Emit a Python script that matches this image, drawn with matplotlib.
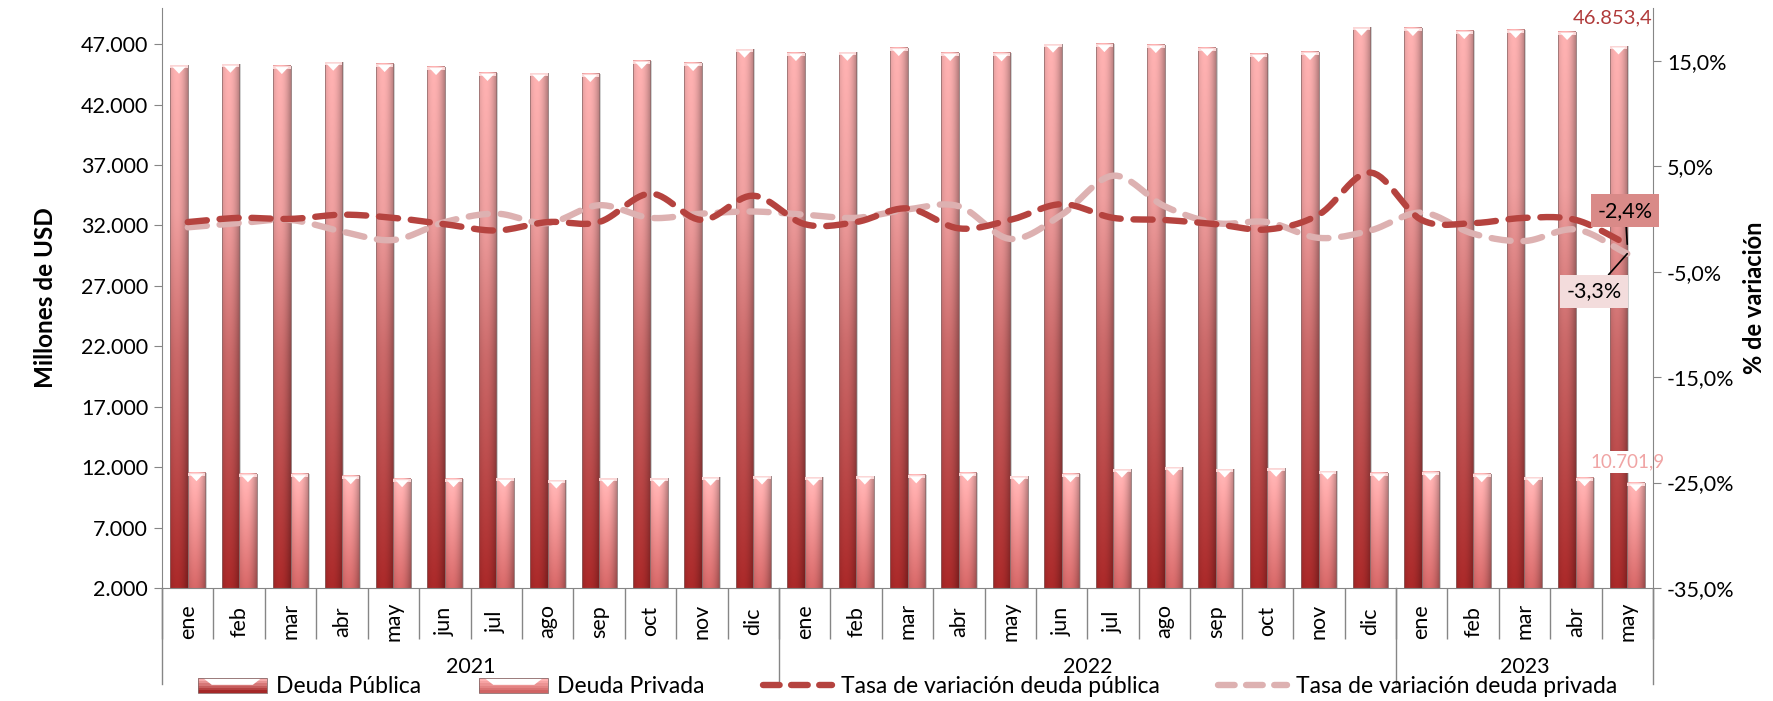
import numpy as np
import matplotlib
matplotlib.use("Agg")
import matplotlib.pyplot as plt
import matplotlib.transforms as mtransforms
from matplotlib.colors import to_rgb
from matplotlib.patches import Rectangle, Polygon
from matplotlib.lines import Line2D
from matplotlib.legend_handler import HandlerBase
from matplotlib.ticker import FuncFormatter, FixedLocator

plt.rcParams['font.family'] = ['Lato', 'DejaVu Sans']

# ---- data (millones de USD y % de variacion) ----
meses = ['ene', 'feb', 'mar', 'abr', 'may', 'jun', 'jul', 'ago', 'sep', 'oct', 'nov', 'dic'] * 2 + \
        ['ene', 'feb', 'mar', 'abr', 'may']
anios = ['2021', '2022', '2023']
meses_por_anio = [12, 12, 5]

deuda_publica = [45260, 45340, 45230, 45510, 45400, 45150, 44660, 44600, 44570, 45650, 45480, 46580,
                 46310, 46330, 46720, 46310, 46280, 47000, 47050, 46970, 46720, 46230, 46390, 48400,
                 48380, 48130, 48210, 48050, 46853.4]
deuda_privada = [11540, 11450, 11450, 11290, 11040, 11040, 11070, 10930, 11070, 11070, 11170, 11260,
                 11170, 11260, 11360, 11550, 11260, 11450, 11830, 12010, 11840, 11900, 11680, 11540,
                 11600, 11450, 11180, 11120, 10701.9]
tasa_publica = [-0.3, 0.1, 0.0, 0.4, 0.1, -0.5, -1.1, -0.3, -0.3, 2.4, -0.1, 2.2,
                -0.5, -0.3, 1.0, -0.9, -0.1, 1.4, 0.1, -0.1, -0.5, -1.0, 0.4, 4.4,
                -0.1, -0.4, 0.1, -0.1, -2.4]
tasa_privada = [-0.8, -0.4, -0.1, -1.2, -2.0, -0.3, 0.5, -0.4, 1.3, 0.1, 0.5, 0.7,
                0.4, 0.1, 0.9, 1.2, -1.9, 0.4, 4.1, 1.2, -0.4, -0.3, -1.8, -1.1,
                0.6, -1.4, -2.1, -1.0, -3.3]

C_PUB_LINE = '#b5433f'
C_PRIV_LINE = '#ddb1b1'
LW = 4.6
DASH = (3.0, 2.0)


def smooth(xs, ys, n=14):
    # catmull-rom curve through the points (like excel "smoothed line")
    xs = np.asarray(xs, float)
    ys = np.asarray(ys, float)
    px = np.concatenate([[2 * xs[0] - xs[1]], xs, [2 * xs[-1] - xs[-2]]])
    py = np.concatenate([[2 * ys[0] - ys[1]], ys, [2 * ys[-1] - ys[-2]]])
    t = np.linspace(0, 1, n, endpoint=False)
    ox, oy = [], []
    for i in range(1, len(px) - 2):
        for arr, out in ((px, ox), (py, oy)):
            p0, p1, p2, p3 = arr[i - 1:i + 3]
            out.extend(0.5 * (2 * p1 + (-p0 + p2) * t + (2 * p0 - 5 * p1 + 4 * p2 - p3) * t ** 2
                              + (-p0 + 3 * p1 - 3 * p2 + p3) * t ** 3))
    ox.append(xs[-1])
    oy.append(ys[-1])
    return np.array(ox), np.array(oy)


def gradient_img(stops, nx=24, ny=80):
    pos = np.array([s[0] for s in stops])
    cols = np.array([to_rgb(s[1]) for s in stops])
    t = np.linspace(0, 1, ny)
    col = np.stack([np.interp(t, pos, cols[:, k]) for k in range(3)], axis=1)
    u = np.linspace(0, 1, nx)
    shade = 1.04 - 0.30 * ((u - 0.38) / 0.62) ** 2
    img = col[:, None, :] * shade[None, :, None]
    return np.clip(img, 0, 1)


pub_stops = [(0, '#a52828'), (0.45, '#c46666'), (0.72, '#e79a9a'), (1, '#f6acac')]
priv_stops = [(0, '#d06464'), (1, '#ffb3b3')]
img_pub = gradient_img(pub_stops)
img_priv = gradient_img(priv_stops)

fig = plt.figure(figsize=(17.73, 7.01), dpi=100)
ax = fig.add_axes([0.0914, 0.1612, 0.8409, 0.8274])
ax2 = ax.twinx()

x = np.arange(len(meses))
w = 0.34
ymin, ymax = 2000, 50000

bars_pub = ax.bar(x - w / 2, deuda_publica, w, color='none', edgecolor='none')
bars_priv = ax.bar(x + w / 2, deuda_privada, w, color='none', edgecolor='none')

cap_h = 700
for bars, img in ((bars_pub, img_pub), (bars_priv, img_priv)):
    for r in bars:
        x0, bw, top = r.get_x(), r.get_width(), r.get_height()
        ax.add_patch(Rectangle((x0 + 0.03, ymin), bw, top - ymin, color='#9a9a9a', alpha=0.45, zorder=1.5, lw=0))
        ax.imshow(img, extent=(x0, x0 + bw, ymin, top), origin='lower', aspect='auto',
                  interpolation='bilinear', zorder=2)
        ax.add_patch(Rectangle((x0, ymin), bw, top - ymin, fill=False, edgecolor='#8a6a6a', lw=0.5, zorder=2.1))
        ax.add_patch(Rectangle((x0, top - 250), bw, 250, color='#fbd6d6', lw=0, zorder=2.2))
        ax.add_patch(Polygon([(x0 + 0.12 * bw, top - 120), (x0 + 0.88 * bw, top - 120),
                              (x0 + bw / 2, top - cap_h)], closed=True, color='white', lw=0, zorder=2.3))

ax.set_xlim(-0.5, len(meses) - 0.5)
ax.set_ylim(ymin, ymax)
ax.set_yticks(np.arange(2000, 47001, 5000))
ax.yaxis.set_major_formatter(FuncFormatter(lambda v, p: f"{v:,.0f}".replace(',', '.')))
ax.tick_params(axis='y', labelsize=15.5, length=6, color='#868686', pad=4)

ax.set_xticks(x)
ax.set_xticklabels(meses, rotation=90, fontsize=15.5, va='center')
ax.tick_params(axis='x', which='major', length=0, pad=24)
ax.xaxis.set_minor_locator(FixedLocator(np.arange(-0.5, len(meses), 1.0)))
ax.tick_params(axis='x', which='minor', length=37, color='#868686', width=1)

for s in ['top', 'right']:
    ax.spines[s].set_visible(False)
for s in ['left', 'bottom']:
    ax.spines[s].set_color('#868686')

# lineas de variacion
sx, sy = smooth(x, tasa_privada)
ax2.plot(sx, sy, color=C_PRIV_LINE, lw=LW, dashes=DASH, dash_capstyle='round', zorder=3)
sx, sy = smooth(x, tasa_publica)
ax2.plot(sx, sy, color=C_PUB_LINE, lw=LW, dashes=DASH, dash_capstyle='round', zorder=4)

ax2.set_ylim(-35, 20)
ax2.set_yticks(np.arange(-35, 16, 10))
ax2.yaxis.set_major_formatter(FuncFormatter(lambda v, p: f"{v:.1f}%".replace('.', ',')))
ax2.tick_params(axis='y', labelsize=15.5, length=6, color='#868686', pad=4)
for s in ['top', 'left', 'bottom']:
    ax2.spines[s].set_visible(False)
ax2.spines['right'].set_color('#868686')

ax.set_ylabel('Millones de USD', fontsize=17.5, fontweight='bold')
ax.yaxis.set_label_coords(-0.0705, 0.5)
ax2.set_ylabel('% de variación', fontsize=17, fontweight='bold')
ax2.yaxis.set_label_coords(1.0605, 0.5)

# eje de categorias en dos niveles
trans = mtransforms.blended_transform_factory(ax.transData, ax.transAxes)
bordes = np.concatenate([[0], np.cumsum(meses_por_anio)]) - 0.5
for b in bordes:
    ax.plot([b, b], [0, -0.1655], transform=trans, color='#868686', lw=1, clip_on=False)
for i, a in enumerate(anios):
    ax.text((bordes[i] + bordes[i + 1]) / 2, -0.136, a, transform=trans, ha='center', va='center', fontsize=15.5)

# etiquetas
i_last = len(meses) - 1
ax.annotate('46.853,4', (i_last - w / 2, deuda_publica[-1]), xytext=(-4, 20), textcoords='offset points',
            ha='center', va='center', fontsize=14.5, color='#b03a3a', zorder=6)
ax.annotate('10.701,9', (i_last + w / 2, deuda_privada[-1]), xytext=(-6, 15), textcoords='offset points',
            ha='center', va='center', fontsize=13.5, color='#f0a4a4', zorder=6,
            bbox=dict(boxstyle='square,pad=0.15', fc='white', ec='none'))
ax2.annotate('-2,4%', (i_last, tasa_publica[-1]), xytext=(-1.5, 24), textcoords='offset points',
             ha='center', va='center', fontsize=15.5, color='black', zorder=6,
             bbox=dict(boxstyle='square,pad=0.3', fc='#d98a88', ec='none'),
             arrowprops=dict(arrowstyle='-', color='black', lw=1.2, shrinkA=0, shrinkB=0))
ax2.annotate('-3,3%', (i_last, tasa_privada[-1]), xytext=(-24, -27), textcoords='offset points',
             ha='center', va='center', fontsize=15.5, color='black', zorder=6,
             bbox=dict(boxstyle='square,pad=0.3', fc='#f3dcdc', ec='none'),
             arrowprops=dict(arrowstyle='-', color='black', lw=1.2, shrinkA=0, shrinkB=0))


class BarHandler(HandlerBase):
    def __init__(self, stops):
        super().__init__()
        self.stops = stops

    def create_artists(self, legend, orig, xd, yd, width, height, fontsize, trans):
        arts = []
        n = 6
        cols = [np.array(to_rgb(self.stops[0][1])), np.array(to_rgb(self.stops[-1][1]))]
        hh = height * 0.9
        for k in range(n):
            c = cols[0] + (cols[1] - cols[0]) * k / (n - 1)
            arts.append(Rectangle((xd, yd + k * hh / n), width, hh / n, color=c, lw=0, transform=trans))
        arts.append(Polygon([(xd + 4, yd + hh), (xd + width - 4, yd + hh), (xd + width - 10, yd + hh * 0.55),
                             (xd + 10, yd + hh * 0.55)], color='white', lw=0, transform=trans))
        arts.append(Rectangle((xd, yd), width, hh, fill=False, ec='#8a6a6a', lw=0.6, transform=trans))
        return arts


h_pub = Rectangle((0, 0), 1, 1)
h_priv = Rectangle((0, 0), 1, 1)
h_tpub = Line2D([], [], color=C_PUB_LINE, lw=LW, dashes=(2.6, 1.8), dash_capstyle='round')
h_tpriv = Line2D([], [], color=C_PRIV_LINE, lw=LW, dashes=(2.6, 1.8), dash_capstyle='round')
fig.legend([h_pub, h_priv, h_tpub, h_tpriv],
           ['Deuda Pública', 'Deuda Privada', 'Tasa de variación deuda pública', 'Tasa de variación deuda privada'],
           handler_map={h_pub: BarHandler(pub_stops), h_priv: BarHandler(priv_stops)},
           loc='center', bbox_to_anchor=(0.512, 0.021), ncol=4, frameon=False, fontsize=16.5,
           handlelength=3.0, handletextpad=0.4, columnspacing=2.55, borderpad=0)

fig.savefig('out.png', dpi=100)
